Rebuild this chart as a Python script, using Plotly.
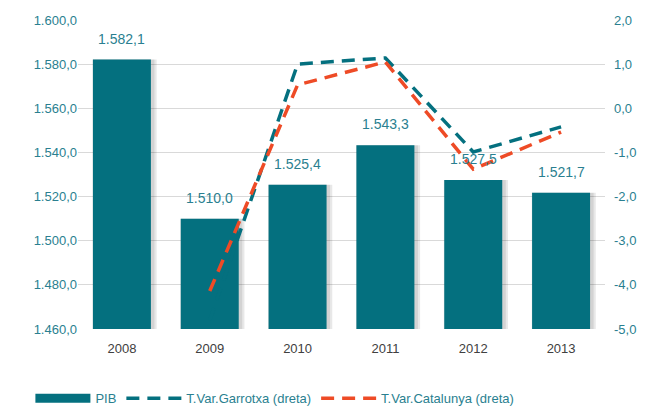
import plotly.graph_objects as go

years = ["2008", "2009", "2010", "2011", "2012", "2013"]
pib = [1582.1, 1510.0, 1525.4, 1543.3, 1527.5, 1521.7]
pib_labels = ["1.582,1", "1.510,0", "1.525,4", "1.543,3", "1.527,5", "1.521,7"]
var_garrotxa = [None, -4.8, 1.0, 1.14, -0.99, -0.42]
var_catalunya = [None, -4.14, 0.53, 1.05, -1.38, -0.54]
right_ticks = [-5, -4, -3, -2, -1, 0, 1, 2]
right_tick_labels = ["-5,0", "-4,0", "-3,0", "-2,0", "-1,0", "0,0", "1,0", "2,0"]

TEAL = "#04707F"
ORANGE = "#EE4B26"
TXT = "#2A7F90"
FONT = "Liberation Sans, Arial, sans-serif"

fig = go.Figure()

# soft shadow behind bars
for w, off in [(0.73, -0.335), (0.70, -0.33)]:
    fig.add_trace(go.Bar(
        x=years, y=[v - 1460 for v in pib], base=1460, width=w, offset=off,
        marker=dict(color="rgba(0,0,0,0.09)", line=dict(width=0)),
        showlegend=False, hoverinfo="skip", yaxis="y"))

fig.add_trace(go.Bar(
    x=years, y=[v - 1460 for v in pib], base=1460, name="PIB",
    width=0.66, offset=-0.33,
    marker=dict(color=TEAL, line=dict(width=0)),
    showlegend=False, yaxis="y"))

# legend entry for PIB drawn as a wide bar symbol
fig.add_trace(go.Scatter(
    x=[years[0]], y=[None], name="PIB", mode="lines",
    line=dict(color=TEAL, width=9), yaxis="y", hoverinfo="skip"))

fig.add_trace(go.Scatter(
    x=years, y=var_garrotxa, name="T.Var.Garrotxa (dreta)", mode="lines",
    line=dict(color=TEAL, width=3.5, dash="13px,8px"), yaxis="y2"))
fig.add_trace(go.Scatter(
    x=years, y=var_catalunya, name="T.Var.Catalunya (dreta)", mode="lines",
    line=dict(color=ORANGE, width=3.5, dash="13px,8px"), yaxis="y2"))

# value labels above bars (x given as category index)
for i, (v, lab) in enumerate(zip(pib, pib_labels)):
    fig.add_annotation(x=i, y=v, xref="x", yref="y", text=lab, showarrow=False,
                       yanchor="middle", yshift=21,
                       font=dict(size=14, color=TXT, family=FONT))

fig.update_layout(
    width=640, height=399,
    margin=dict(l=70, r=43, t=12, b=78, autoexpand=False),
    paper_bgcolor="white", plot_bgcolor="white",
    separators=",.",
    barmode="overlay",
    font=dict(family=FONT, color=TXT, size=13),
    showlegend=True,
    legend=dict(orientation="h", xref="container", yref="container",
                x=0.035, xanchor="left", y=0.022, yanchor="middle",
                itemwidth=55,
                font=dict(size=13, color=TXT, family=FONT), traceorder="normal",
                bgcolor="rgba(0,0,0,0)"),
    xaxis=dict(type="category", categoryorder="array", categoryarray=years,
               range=[-0.5, 5.5], showgrid=False, showline=False, ticks="",
               automargin=False, ticklabelstandoff=10,
               tickfont=dict(size=13, color="#404040", family=FONT)),
    yaxis=dict(range=[1460, 1600], dtick=20, tickformat=",.1f",
               showgrid=True, gridcolor="#D9D9D9", gridwidth=1,
               zeroline=False, showline=False, ticks="", automargin=False,
               tickfont=dict(size=13, color=TXT, family=FONT)),
    yaxis2=dict(range=[-5, 2], tickvals=right_ticks, ticktext=right_tick_labels,
                overlaying="y", side="right", showgrid=False, zeroline=False,
                showline=False, ticks="", automargin=False, ticklabelstandoff=8,
                tickfont=dict(size=13, color=TXT, family=FONT)),
)

fig.write_html("out.html")
